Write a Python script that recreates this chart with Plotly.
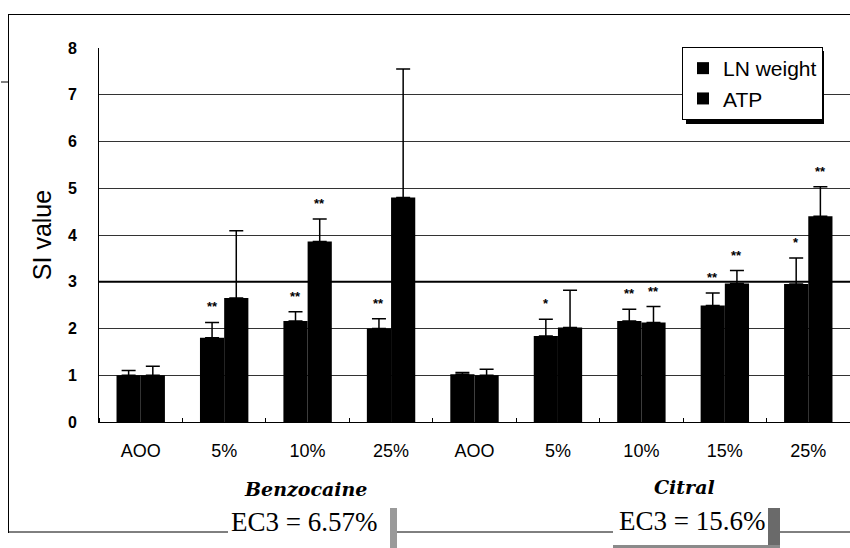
import plotly.graph_objects as go

# SI values for the local lymph node assay (mean and upper SD)
categories = ["AOO", "5%", "10%", "25%", "AOO", "5%", "10%", "15%", "25%"]
ln_weight = [1.00, 1.80, 2.16, 2.00, 1.02, 1.84, 2.16, 2.49, 2.95]
ln_sd = [0.10, 0.33, 0.20, 0.21, 0.04, 0.36, 0.25, 0.27, 0.56]
atp = [1.00, 2.65, 3.86, 4.80, 1.00, 2.02, 2.13, 2.96, 4.40]
atp_sd = [0.19, 1.44, 0.48, 2.75, 0.13, 0.80, 0.34, 0.28, 0.63]
ln_sig = ["", "**", "**", "**", "", "*", "**", "**", "*"]
atp_sig = ["", "", "**", "", "", "", "**", "**", "**"]
compounds = ["Benzocaine", "Citral"]
ec3_labels = ["EC3 = 6.57%", "EC3 = 15.6%"]
threshold = 3

W, H = 850, 548
ML, MR, MT, MB = 99, 0, 48, 126
BARGAP = 0.42


def fx(px):
    return (px - ML) / (W - ML - MR)


def fy(py):
    return (H - MB - py) / (H - MT - MB)


xpos = list(range(len(categories)))

fig = go.Figure()
for name, vals, sd in [("LN weight", ln_weight, ln_sd), ("ATP", atp, atp_sd)]:
    fig.add_trace(go.Bar(
        name=name, x=xpos, y=vals, marker=dict(color="black", line=dict(width=0)),
        error_y=dict(type="data", array=sd, arrayminus=[0] * len(sd), symmetric=False,
                     color="black", thickness=1.5, width=7),
    ))

# significance stars above the error bars
half = (1 - BARGAP) / 4
annotations = []
for i in xpos:
    for off, vals, sd, sig in [(-half, ln_weight, ln_sd, ln_sig), (half, atp, atp_sd, atp_sig)]:
        if sig[i]:
            annotations.append(dict(
                x=i + off, y=vals[i] + sd[i], xref="x", yref="y", text=sig[i],
                showarrow=False, yanchor="bottom", yshift=6,
                font=dict(family="Liberation Sans", size=13, color="black", weight="bold"),
            ))


def label(px, py, text, font):
    return dict(x=fx(px), y=fy(py), xref="paper", yref="paper", text=text, showarrow=False,
                xanchor="center", yanchor="middle", font=font)


compound_font = dict(family="DejaVu Serif", size=19, color="black", style="italic", weight="bold")
ec3_font = dict(family="Liberation Serif", size=27, color="black")
annotations += [
    label(305, 489, compounds[0], compound_font),
    label(684, 487, compounds[1], compound_font),
    label(304, 522, ec3_labels[0], ec3_font),
    label(692, 521, ec3_labels[1], ec3_font),
]


def rect(x0, y0, x1, y1, fill, line_w=0):
    return dict(type="rect", xref="paper", yref="paper", x0=fx(x0), x1=fx(x1), y0=fy(y1), y1=fy(y0),
                fillcolor=fill, line=dict(width=line_w, color="black"), layer="above")


def hline(x0, x1, y, w=1):
    return dict(type="line", xref="paper", yref="paper", x0=fx(x0), x1=fx(x1), y0=fy(y), y1=fy(y),
                line=dict(color="black", width=w), layer="above")


def vline(x, y0, y1, w=1):
    return dict(type="line", xref="paper", yref="paper", x0=fx(x), x1=fx(x), y0=fy(y0), y1=fy(y1),
                line=dict(color="black", width=w), layer="above")


LEG_X, LEG_Y = 682, 47
shapes = [
    # SI = 3 positive threshold
    dict(type="line", xref="paper", yref="y", x0=0, x1=1, y0=threshold, y1=threshold,
         line=dict(color="black", width=2), layer="above"),
    # outer frame
    hline(8, 850, 14.5),
    vline(8.5, 14, 533),
    hline(8, 850, 532),
    hline(1, 8, 82),
    # EC3 boxes and their shadows
    rect(228, 506, 390, 548, "white"),
    rect(390, 508, 397, 548, "#9a9a9a"),
    rect(613, 506, 768, 545, "white"),
    rect(768, 508, 780, 548, "#6a6a6a"),
    rect(613, 545, 780, 548, "#8a8a8a"),
    # legend shadow
    rect(LEG_X + 4, LEG_Y + 4, LEG_X + 142, LEG_Y + 77, "black"),
]

fig.update_layout(
    width=W, height=H, margin=dict(l=ML, r=MR, t=MT, b=MB, autoexpand=False),
    paper_bgcolor="white", plot_bgcolor="white",
    barmode="group", bargap=BARGAP, bargroupgap=0,
    font=dict(family="Liberation Sans", color="black"),
    xaxis=dict(range=[-0.5, len(categories) - 0.5], tickvals=xpos, ticktext=categories,
               ticks="", showgrid=False, zeroline=False, showline=True, linecolor="black",
               linewidth=1, ticklabelstandoff=12, automargin=False,
               tickfont=dict(family="Liberation Sans", size=18, color="black"),
               minor=dict(ticks="inside", ticklen=4, tick0=0.5, dtick=1, tickcolor="black",
                          showgrid=False)),
    yaxis=dict(range=[0, 8], dtick=1, ticks="", showgrid=True, gridcolor="#333", gridwidth=1,
               zeroline=False, showline=True, linecolor="black", linewidth=1,
               ticklabelstandoff=18, automargin=False,
               tickfont=dict(family="Liberation Sans", size=16, color="black", weight="bold"),
               title=dict(text="SI value", standoff=9,
                          font=dict(family="Liberation Sans", size=25, color="black"))),
    legend=dict(x=fx(LEG_X), y=fy(LEG_Y), xanchor="left", yanchor="top", bgcolor="white",
                bordercolor="black", borderwidth=1, itemwidth=30, tracegroupgap=0,
                font=dict(family="Liberation Sans", size=21, color="black")),
    showlegend=True,
    annotations=annotations,
    shapes=shapes,
)

fig.write_html("out.html")
